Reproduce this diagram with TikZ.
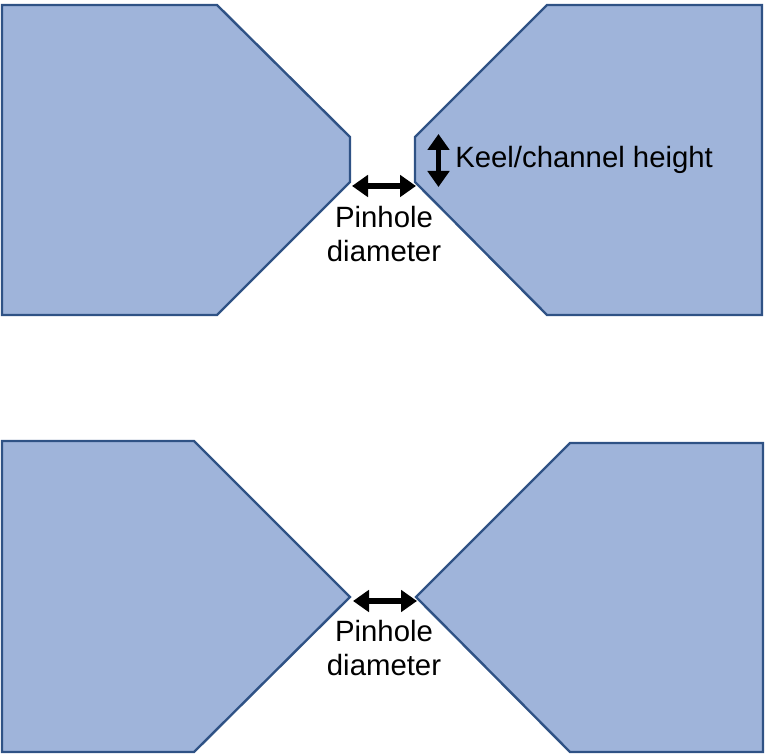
\documentclass[tikz,border=0pt]{standalone}
\usepackage{fontspec}
\setmainfont{Liberation Sans}
\usetikzlibrary{arrows.meta}
\tikzset{
 px/.style={x=0.75pt,y=-0.75pt},
 plate/.style={draw=edgeblue,fill=plateblue,line width=1.8pt,line join=miter},
 dim/.style={line width=4pt,{Triangle[length=12pt,width=16pt]}-{Triangle[length=12pt,width=16pt]},black},
 lbl/.style={font=\fontsize{22}{24.8}\selectfont,align=center,inner sep=0pt,text=black}
}
\definecolor{edgeblue}{HTML}{2F5285}
\definecolor{plateblue}{HTML}{9FB4DA}
\begin{document}
\begin{tikzpicture}[px]
\useasboundingbox (0,0) rectangle (768,755);
\draw[plate] (2,5) -- (217,5) -- (350,137) -- (350,182) -- (217,315) -- (2,315) -- cycle;
\draw[plate] (762,5) -- (547,5) -- (415,137) -- (415,182) -- (547,315) -- (762,315) -- cycle;
\draw[plate] (2,441) -- (194,441) -- (350,597) -- (194,752) -- (2,752) -- cycle;
\draw[plate] (763,443) -- (570,443) -- (416,597) -- (570,752) -- (763,752) -- cycle;
\coordinate (a1) at (352,186); \coordinate (a2) at (416,186);
\draw[dim] (a1) -- (a2);
\coordinate (b1) at (438.5,134); \coordinate (b2) at (438.5,187);
\draw[dim] (b1) -- (b2);
\coordinate (c1) at (353,601); \coordinate (c2) at (417,601);
\draw[dim] (c1) -- (c2);
\node[lbl,anchor=west] (k) at (455,160) {Keel/channel height};
\node[lbl] (p1) at (384,234) {Pinhole\\diameter};
\node[lbl] (p2) at (384,648) {Pinhole\\diameter};
\end{tikzpicture}
\end{document}
